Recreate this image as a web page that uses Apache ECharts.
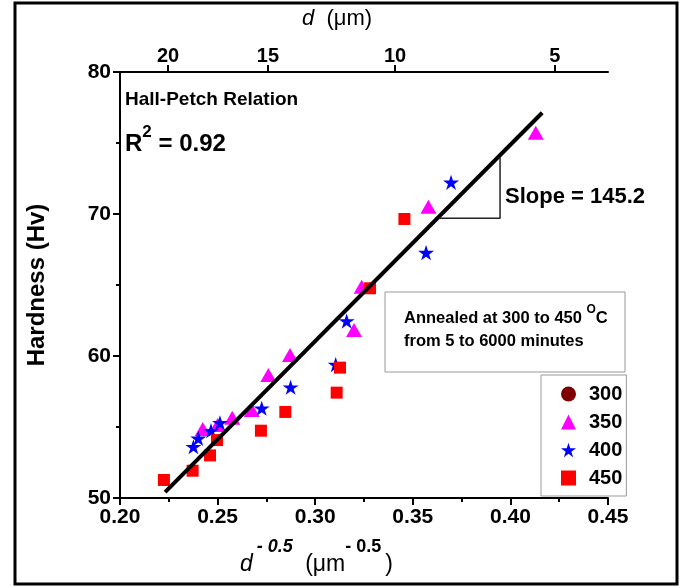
<!DOCTYPE html>
<html><head><meta charset="utf-8">
<script src="https://cdn.jsdelivr.net/npm/echarts@6/dist/echarts.min.js"></script>
<style>html,body{margin:0;padding:0;background:#fff}#c{width:688px;height:587px}</style>
</head><body><div id="c"></div>
<script>
// ---- data ----
const seriesNames = ['300', '350', '400', '450'];
const s300 = [];
const s350 = [[0.2424,54.86],[0.2500,55.14],[0.2575,55.65],[0.2675,56.2],[0.2760,58.66],[0.2871,60.07],[0.3199,61.83],[0.3238,64.88],[0.3580,70.51],[0.4130,75.73]];
const s400 = [[0.2376,53.61],[0.2401,54.2],[0.2466,54.74],[0.2512,55.3],[0.2726,56.32],[0.2874,57.8],[0.3105,59.4],[0.3161,62.46],[0.3568,67.28],[0.3696,72.23]];
const s450 = [[0.2225,51.27],[0.2372,51.92],[0.2461,53.0],[0.2497,54.08],[0.2722,54.74],[0.2847,56.06],[0.3110,57.42],[0.3127,59.18],[0.3281,64.77],[0.3457,69.65]];
const fitLine = [[0.2231,50.42],[0.4163,77.13]];
const slopeTri = [[0.3637,69.70],[0.3947,69.70],[0.3947,74.04]];
const topTickLabels = ['20','15','10','5'];
const topTickValues = [0.2246,0.2758,0.3409,0.4228];
const xMin = 0.2, xMax = 0.45, xStep = 0.05;
const yMin = 50, yMax = 80, yStep = 10;

const FONT = '"Liberation Sans", Arial, sans-serif';
const starPath = 'path://M100,0 L122.45,69.1 L195.1,69.1 L136.3,111.8 L158.8,180.9 L100,138.2 L41.2,180.9 L63.7,111.8 L4.9,69.1 L77.55,69.1 Z';

const chart = echarts.init(document.getElementById('c'), null, {renderer:'canvas'});
const axisCommon = {
  axisLine: {show:true, onZero:false, lineStyle:{color:'#000', width:2}},
  splitLine: {show:false},
};
chart.setOption({
  animation: false,
  backgroundColor: '#fff',
  grid: {left:120, right:80, top:72, bottom:89, containLabel:false},
  xAxis: [
    Object.assign({
      type:'value', min:xMin, max:xMax, interval:xStep, position:'bottom',
      axisTick:{show:true, inside:false, length:7, lineStyle:{color:'#000', width:2}},
      minorTick:{show:true, splitNumber:2, length:4, lineStyle:{color:'#000', width:2}},
      axisLabel:{color:'#000', fontFamily:FONT, fontWeight:'bold', fontSize:21, margin:9,
        formatter: v => v.toFixed(2)}
    }, axisCommon),
    Object.assign({
      type:'value', min:xMin, max:xMax, position:'top',
      axisTick:{show:true, inside:false, length:7, customValues:topTickValues, lineStyle:{color:'#000', width:2}},
      axisLabel:{color:'#000', fontFamily:FONT, fontWeight:'bold', fontSize:20, margin:6,
        customValues:topTickValues,
        formatter: v => { let best=0; topTickValues.forEach((t,i)=>{ if(Math.abs(t-v)<Math.abs(topTickValues[best]-v)) best=i; }); return topTickLabels[best]; }}
    }, axisCommon)
  ],
  yAxis: Object.assign({
    type:'value', min:yMin, max:yMax, interval:yStep,
    axisTick:{show:true, inside:false, length:7, lineStyle:{color:'#000', width:2}},
    minorTick:{show:true, splitNumber:2, length:4, lineStyle:{color:'#000', width:2}},
    axisLabel:{color:'#000', fontFamily:FONT, fontWeight:'bold', fontSize:21, margin:9},
    name:'Hardness (Hv)', nameLocation:'middle', nameRotate:90, nameGap:71,
    nameTextStyle:{color:'#000', fontFamily:FONT, fontWeight:'bold', fontSize:24}
  }, axisCommon),
  legend: {
    orient:'vertical', left:541, top:375,
    data: seriesNames,
    borderColor:'#999', borderWidth:1, padding:[8,4,7,20], itemGap:6,
    itemWidth:15, itemHeight:15,
    textStyle:{color:'#000', fontFamily:FONT, fontWeight:'bold', fontSize:20, lineHeight:22, padding:[0,0,0,8]}
  },
  series: [
    {name:'300', type:'scatter', data:s300, symbol:'circle', symbolSize:14, itemStyle:{color:'#800000', opacity:1}},
    {name:'350', type:'scatter', data:s350, symbol:'triangle', symbolSize:[16,14], itemStyle:{color:'#FF00FF', opacity:1}, z:3},
    {name:'400', type:'scatter', data:s400, symbol:starPath, symbolKeepAspect:true, symbolSize:16, itemStyle:{color:'#0000FF', opacity:1}, z:4},
    {name:'450', type:'scatter', data:s450, symbol:'rect', symbolSize:12, itemStyle:{color:'#FF0000', opacity:1}, z:5},
    {name:'fit', type:'line', data:fitLine, symbol:'none', lineStyle:{color:'#000', width:4}, z:6, silent:true},
    {name:'slope', type:'line', data:slopeTri, symbol:'none', lineStyle:{color:'#222', width:1.5}, z:6, silent:true}
  ],
  graphic: [
    {type:'rect', shape:{x:15, y:3, width:662, height:581}, style:{fill:'none', stroke:'#000', lineWidth:3}, z:100},
    {type:'text', left:125, top:90, style:{text:'Hall-Petch Relation', fill:'#000', font:'bold 19px ' + FONT}},
    {type:'text', left:125, top:124, style:{text:'{b|R}{s|2}{b| = 0.92}', fill:'#000',
      rich:{b:{fontFamily:FONT, fontWeight:'bold', fontSize:24, lineHeight:32, verticalAlign:'bottom'},
            s:{fontFamily:FONT, fontWeight:'bold', fontSize:17, lineHeight:32, verticalAlign:'top'}}}},
    {type:'text', left:505, top:186, style:{text:'Slope = 145.2', fill:'#000', font:'bold 22px ' + FONT}},
    {type:'rect', shape:{x:385, y:292, width:240, height:80}, style:{fill:'#fff', stroke:'#999', lineWidth:1}, z:1},
    {type:'text', left:404, top:304, z:2, style:{text:'{b|Annealed at 300 to 450 }{s|O}{b|C}\n{b|from 5 to 6000 minutes}', fill:'#000',
      rich:{b:{fontFamily:FONT, fontWeight:'bold', fontSize:16.5, lineHeight:23, verticalAlign:'bottom'},
            s:{fontFamily:FONT, fontWeight:'bold', fontSize:12, lineHeight:23, verticalAlign:'top'}}}},
    {type:'text', left:302, top:8, style:{text:'{i|d}{n|  (μm)}', fill:'#000',
      rich:{i:{fontFamily:FONT, fontStyle:'italic', fontSize:22}, n:{fontFamily:FONT, fontSize:22}}}},
    {type:'text', left:240, top:538, style:{text:'{i|d}{s|- 0.5}{n| (μm}{s2|- 0.5}{n|)}', fill:'#000',
      rich:{i:{fontFamily:FONT, fontStyle:'italic', fontSize:23, lineHeight:38, verticalAlign:'bottom'},
            s:{fontFamily:FONT, fontStyle:'italic', fontWeight:'bold', fontSize:18, lineHeight:38, verticalAlign:'top', padding:[0,6,0,4]},
            n:{fontFamily:FONT, fontSize:23, lineHeight:38, verticalAlign:'bottom'},
            s2:{fontFamily:FONT, fontWeight:'bold', fontSize:18, lineHeight:38, verticalAlign:'top', padding:[0,4,0,0]}}}}
  ]
});
</script>
</body></html>
